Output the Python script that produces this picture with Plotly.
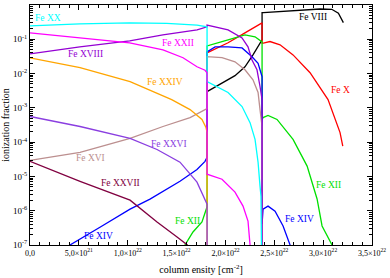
import plotly.graph_objects as go

U = 1e22  # column density unit

# ---- data (column density in units of 1e22 cm^-2, ionization fraction) ----
fe8_x = [1.812, 1.965, 2.098, 2.20, 2.282, 2.375, 2.375, 2.388, 2.559, 2.764, 2.968, 3.088, 3.156, 3.207]
fe8_y = [2.97e-3, 5.4e-3, 8.7e-3, 0.0158, 0.035, 0.096, 0.60, 0.60, 0.64, 0.716, 0.765, 0.75, 0.574, 0.306]

fe10_x = [1.812, 2.027, 2.20, 2.375, 2.375, 2.388, 2.456, 2.559, 2.692, 2.866, 3.050, 3.101, 3.173, 3.201]
fe10_y = [0.040, 0.079, 0.154, 0.30, 0.077, 0.077, 0.086, 0.069, 0.035, 0.0106, 1.74e-3, 7.3e-4, 1.9e-4, 7.7e-5]

fe12_x = [1.55, 1.586, 1.668, 1.760, 1.812, 1.812, 2.027, 2.20, 2.303, 2.375, 2.375, 2.385, 2.436, 2.528, 2.692, 2.836, 2.938, 2.989, 3.091, 3.12]
fe12_y = [5e-8, 1e-7, 2.4e-7, 4.7e-7, 1.3e-6, 0.064, 0.096, 0.134, 0.118, 0.084, 4.6e-4, 5.2e-4, 6.0e-4, 4.6e-4, 1.2e-4, 2.0e-5, 2.2e-6, 3.6e-7, 1e-7, 5e-8]

fe14_x = [0.30, 0.409, 0.716, 1.024, 1.228, 1.535, 1.709, 1.791, 1.812, 1.812, 1.894, 2.027, 2.170, 2.272, 2.334, 2.354, 2.375, 2.375, 2.385, 2.436, 2.508, 2.590, 2.661, 2.70]
fe14_y = [5e-8, 1e-7, 3.3e-7, 1.11e-6, 2.17e-6, 7.2e-6, 1.6e-5, 2.75e-5, 3.6e-5, 0.043, 0.060, 0.060, 0.056, 0.031, 0.020, 0.0129, 8.1e-3, 4.1e-7, 1.11e-6, 1.36e-6, 9.7e-7, 3.6e-7, 1e-7, 5e-8]

fe16_x = [0.0, 0.512, 1.024, 1.361, 1.638, 1.791, 1.812, 1.812, 1.965, 2.098, 2.20, 2.282, 2.334, 2.354, 2.375, 2.375]
fe16_y = [2.94e-5, 5.0e-5, 1.28e-4, 2.86e-4, 5.2e-4, 8.9e-4, 9.5e-4, 0.031, 0.029, 0.022, 0.0129, 6.6e-3, 2.8e-3, 8.9e-4, 2.86e-4, 1e-9]

fe18_x = [0.0, 0.51, 1.02, 1.36, 1.71, 1.812, 1.812, 2.027, 2.170, 2.231, 2.272, 2.323, 2.354, 2.375, 2.375]
fe18_y = [0.0377, 0.060, 0.090, 0.134, 0.188, 0.23, 0.26, 0.188, 0.11, 0.060, 0.025, 0.0129, 4.2e-3, 1.74e-3, 1e-9]

fe20_x = [0.0, 0.51, 1.02, 1.40, 1.71, 1.812, 1.812, 2.027, 2.170, 2.252, 2.303, 2.334, 2.354, 2.364, 2.375]
fe20_y = [0.245, 0.28, 0.30, 0.29, 0.26, 0.23, 5.8e-3, 2.8e-3, 1.09e-3, 3.7e-4, 1.2e-4, 2.6e-5, 5.2e-6, 2.6e-6, 1e-9]

fe22_x = [0.0, 0.51, 1.02, 1.361, 1.566, 1.709, 1.791, 1.812, 1.812, 1.965, 2.098, 2.180, 2.231, 2.252, 2.27]
fe22_y = [0.154, 0.110, 0.079, 0.049, 0.029, 0.0158, 0.0125, 0.0105, 1.16e-5, 8.3e-6, 3.5e-6, 1.36e-6, 5e-7, 1e-7, 3e-8]

fe24_x = [0.0, 0.512, 1.024, 1.45, 1.638, 1.760, 1.801, 1.812, 1.812]
fe24_y = [0.0289, 0.0148, 5.8e-3, 1.74e-3, 8.9e-4, 4.6e-4, 2.7e-4, 1.9e-4, 1e-9]

fe26_x = [0.0, 0.512, 1.024, 1.300, 1.535, 1.709, 1.812, 1.812]
fe26_y = [5.6e-4, 2.86e-4, 1.28e-4, 6.1e-5, 2.6e-5, 6.8e-6, 1.55e-6, 1e-9]

fe27_x = [0.0, 0.512, 1.024, 1.300, 1.505, 1.61, 1.66]
fe27_y = [2.75e-5, 7.2e-6, 2.03e-6, 4.7e-7, 1.7e-7, 1e-7, 5e-8]

# tick labels
x_tickvals = [0, 0.5, 1.0, 1.5, 2.0, 2.5, 3.0, 3.5]
x_ticktext = ["0,0", "5,0×10<sup>21</sup>", "1,0×10<sup>22</sup>", "1,5×10<sup>22</sup>",
              "2,0×10<sup>22</sup>", "2,5×10<sup>22</sup>", "3,0×10<sup>22</sup>", "3,5×10<sup>22</sup>"]
y_tickvals = [1e-7, 1e-6, 1e-5, 1e-4, 1e-3, 1e-2, 1e-1, 1e0]
y_ticktext = ["10<sup>-7</sup>", "10<sup>-6</sup>", "10<sup>-5</sup>", "10<sup>-4</sup>",
              "10<sup>-3</sup>", "10<sup>-2</sup>", "10<sup>-1</sup>", "10<sup>0</sup>"]

# ---- styling ----
series = [
    ("Fe VIII", fe8_x, fe8_y, "#000000"),
    ("Fe X", fe10_x, fe10_y, "#ff0000"),
    ("Fe XII", fe12_x, fe12_y, "#00e000"),
    ("Fe XIV", fe14_x, fe14_y, "#0000ff"),
    ("Fe XVI", fe16_x, fe16_y, "#bc8f8f"),
    ("Fe XVIII", fe18_x, fe18_y, "#9400d3"),
    ("Fe XXVII", fe27_x, fe27_y, "#800040"),
    ("Fe XX", fe20_x, fe20_y, "#00ffff"),
    ("Fe XXIV", fe24_x, fe24_y, "#ffa500"),
    ("Fe XXII", fe22_x, fe22_y, "#ff00ff"),
    ("Fe XXVI", fe26_x, fe26_y, "#8a3ee0"),
]

labels = [
    ("Fe XX", 0.184, -0.378, "#00ffff"),
    ("Fe XVIII", 0.563, -1.423, "#9400d3"),
    ("Fe XXII", 1.515, -1.104, "#ff00ff"),
    ("Fe XXIV", 1.382, -2.236, "#ffa500"),
    ("Fe VIII", 2.897, -0.349, "#000000"),
    ("Fe X", 3.173, -2.469, "#ff0000"),
    ("Fe XVI", 0.624, -4.473, "#bc8f8f"),
    ("Fe XXVI", 1.423, -4.066, "#8a3ee0"),
    ("Fe XXVII", 0.931, -5.199, "#800040"),
    ("Fe XII", 3.050, -5.257, "#00e000"),
    ("Fe XII", 1.607, -6.303, "#00e000"),
    ("Fe XIV", 0.696, -6.738, "#0000ff"),
    ("Fe XIV", 2.753, -6.245, "#0000ff"),
]

FONT = "Liberation Serif"

fig = go.Figure()
for name, xs, ys, col in series:
    fig.add_trace(go.Scatter(x=[v * U for v in xs], y=ys, mode="lines", name=name,
                             line=dict(color=col, width=1.3), showlegend=False,
                             hoverinfo="skip"))

for txt, lx, ly, col in labels:
    fig.add_annotation(x=lx * U, y=ly, text=txt, showarrow=False,
                       font=dict(family=FONT, size=9.5, color=col),
                       xanchor="center", yanchor="middle")

fig.update_layout(
    width=390, height=278,
    margin=dict(l=30, r=18, t=5, b=33),
    paper_bgcolor="white", plot_bgcolor="white",
    font=dict(family=FONT, color="black"),
)
fig.update_xaxes(
    range=[0, 3.5 * U], showline=True, linecolor="black", linewidth=1, mirror="ticks",
    ticks="inside", ticklen=5, tickcolor="black", automargin=False,
    tickvals=[v * U for v in x_tickvals], ticktext=x_ticktext,
    tickfont=dict(family=FONT, size=8),
    minor=dict(ticks="inside", ticklen=3, dtick=0.1 * U, tickcolor="black"),
    showgrid=False, zeroline=False,
    title=dict(text="column ensity [cm<sup>-2</sup>]", font=dict(family=FONT, size=10), standoff=9),
)
fig.update_yaxes(
    type="log", range=[-7, 0], showline=True, linecolor="black", linewidth=1, mirror="ticks",
    ticks="inside", ticklen=5, tickcolor="black", automargin=False,
    tickvals=y_tickvals, ticktext=y_ticktext,
    tickfont=dict(family=FONT, size=9),
    minor=dict(ticks="inside", ticklen=3, dtick="D1", tickcolor="black"),
    showgrid=False, zeroline=False,
    title=dict(text="ionization fraction", font=dict(family=FONT, size=10), standoff=1),
)

fig.write_html("out.html", config={"displayModeBar": False, "staticPlot": True},
               post_script="document.body.style.margin='0';document.body.style.overflow='hidden';")
